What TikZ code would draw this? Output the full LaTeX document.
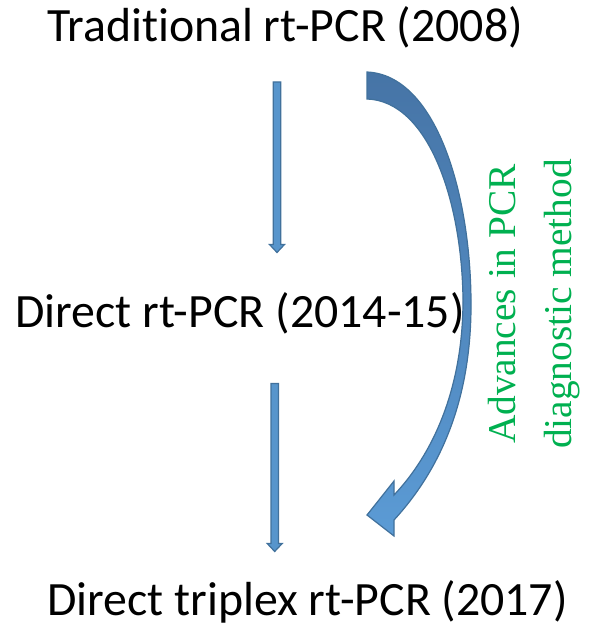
\documentclass[tikz,border=0pt]{standalone}
\usepackage{fontspec}
\setmainfont{Carlito}[Ligatures=NoCommon]
\newfontfamily\timesfont{Liberation Serif}
\usetikzlibrary{calc}

\definecolor{arrowblue}{HTML}{5B9BD5}
\definecolor{arrowdark}{HTML}{41719C}
\definecolor{arrowtop}{HTML}{4674A6}
\definecolor{labelgreen}{HTML}{00B050}

\begin{document}
\begin{tikzpicture}[x=1bp,y=-1bp,
  every node/.style={inner sep=0pt},
  stage/.style={anchor=base,font=\fontsize{48}{56}\selectfont},
  blockarr/.style={fill=arrowblue!85!arrowdark,draw=arrowdark,line width=1.2bp,line join=miter}]
  \useasboundingbox (0,0) rectangle (593,626);

  % Stages of the method
  \node[stage] (trad) at (285,42) {Traditional rt-PCR (2008)};
  \node[stage] (direct) at (240,327) {Direct rt-PCR (2014-15)};
  \node[stage] (triplex) at (307.5,615) {Direct triplex rt-PCR (2017)};

  % Ends of the block arrows
  \coordinate (a1top) at (277,82);
  \coordinate (a1tip) at (277,252.5);
  \coordinate (a2top) at (274.7,383.5);
  \coordinate (a2tip) at (274.7,551.5);

  % Block arrows between stages
  \foreach \s/\e in {a1top/a1tip, a2top/a2tip} {
    \draw[blockarr] ($(\s)+(-3.7,0)$) -- ($(\s)+(3.7,0)$) -- ($(\e)+(3.7,-8)$)
      -- ($(\e)+(7.5,-8)$) -- (\e) -- ($(\e)+(-7.5,-8)$) -- ($(\e)+(-3.7,-8)$) -- cycle;
  }

  % Curved arrow
  \shadedraw[top color=arrowtop,bottom color=arrowblue,draw=arrowdark,line width=1.2bp,line join=miter]
    (367,72) .. controls (435,75) and (470,190) .. (471,300)
    .. controls (472,400) and (440,470) .. (394,520)
    -- (394,536) -- (367,515) -- (394,481) -- (394,495)
    .. controls (432,455) and (463,390) .. (463,300)
    .. controls (462,200) and (428,101) .. (367,99) -- cycle;

  % Side label
  \node[rotate=90,anchor=north,align=center,text=labelgreen,
    font=\timesfont\fontsize{39.5}{56}\selectfont] (advances) at (488,304)
    {Advances in PCR\\diagnostic method};
\end{tikzpicture}
\end{document}
